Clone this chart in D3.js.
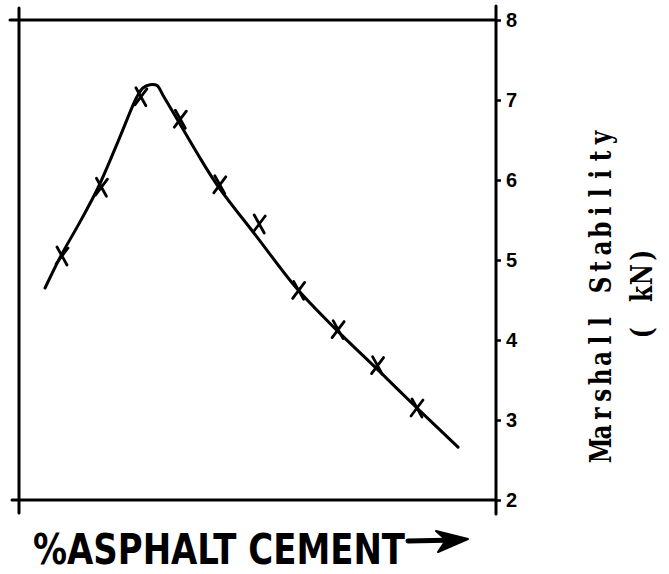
<!DOCTYPE html>
<html>
<head>
<meta charset="utf-8">
<script src="https://cdn.jsdelivr.net/npm/d3@7"></script>
<style>
  body { margin: 0; background: #fff; }
</style>
</head>
<body>
<div id="chart"></div>
<script>
// test number along the % asphalt axis (no values printed on that axis)
var SAMPLE_X = [0, 1, 2, 3, 4, 5, 6, 7, 8, 9];
var STABILITY = [5.05, 5.91, 7.04, 6.76, 5.94, 5.45, 4.62, 4.13, 3.68, 3.15];

// the hand drawn trend curve
var CURVE_X = [-0.43, -0.03, 0.46, 0.91, 1.42, 1.90, 2.05, 2.23, 2.41, 2.56, 2.92, 3.42, 3.93, 4.94, 5.96, 6.95, 7.94, 9.0, 10.04];
var CURVE_Y = [4.65, 5.05, 5.48, 5.90, 6.48, 7.04, 7.15, 7.19, 7.18, 7.06, 6.76, 6.34, 5.94, 5.29, 4.64, 4.13, 3.66, 3.15, 2.66];

var Y_TICKS = [2, 3, 4, 5, 6, 7, 8];
var Y_TITLE = 'Marshall Stability';
var Y_UNIT = '( kN)';
var X_TITLE = '%ASPHALT CEMENT';

var WIDTH = 669, HEIGHT = 574;

var svg = d3.select('#chart').append('svg')
    .attr('width', WIDTH)
    .attr('height', HEIGHT);

var x = d3.scaleLinear().domain([0, 9]).range([62, 417]);
var y = d3.scaleLinear().domain([2, 8]).range([500, 20]);

var frame = svg.append('g').attr('id', 'frame')
    .attr('stroke', '#000')
    .attr('stroke-width', 3)
    .attr('stroke-linecap', 'round');

// left border, top and bottom rules (ends run past the corners like the drawing)
var axisX = 496;
frame.append('line').attr('x1', 19).attr('x2', 19).attr('y1', 8).attr('y2', 513);
frame.append('line').attr('x1', 10).attr('x2', axisX).attr('y1', y(8)).attr('y2', y(8));
frame.append('line').attr('x1', 12).attr('x2', axisX).attr('y1', y(2)).attr('y2', y(2));

// right hand value axis
frame.append('line').attr('x1', axisX).attr('x2', axisX).attr('y1', 6).attr('y2', 514);

var yAxis = svg.append('g')
    .attr('transform', 'translate(' + axisX + ',0)')
    .attr('font-size', 20)
    .attr('font-family', '"Liberation Sans", Arial, sans-serif')
    .call(d3.axisRight(y).tickValues(Y_TICKS).tickSize(5).tickPadding(5).tickFormat(d3.format('d')));

yAxis.select('.domain').remove();
yAxis.selectAll('.tick line').attr('stroke', '#000').attr('stroke-width', 2.5);
yAxis.selectAll('.tick text')
    .attr('fill', '#000')
    .style('font-family', '"Liberation Sans", Arial, sans-serif')
    .style('font-weight', 'bold')
    .style('font-size', '20px');

// trend curve
var line = d3.line()
    .x(function(d) { return x(d[0]); })
    .y(function(d) { return y(d[1]); })
    .curve(d3.curveCatmullRom.alpha(0.5));

svg.append('path')
    .datum(d3.zip(CURVE_X, CURVE_Y))
    .attr('d', line)
    .attr('fill', 'none')
    .attr('stroke', '#000')
    .attr('stroke-width', 3)
    .attr('stroke-linecap', 'round');

// test results as crosses
svg.append('g').attr('id', 'points')
    .selectAll('path')
    .data(d3.zip(SAMPLE_X, STABILITY))
    .enter().append('path')
    .attr('transform', function(d) { return 'translate(' + x(d[0]) + ',' + y(d[1]) + ')'; })
    .attr('d', 'M-5,-9L5,9M6,-8L-6,8')
    .attr('fill', 'none')
    .attr('stroke', '#000')
    .attr('stroke-width', 2.8)
    .attr('stroke-linecap', 'round');

// value axis title, typewriter style: every letter on an even pitch,
// glyphs squeezed a little so wide ones (M, N) don't run together
function typed(str, cx, cy, pitch){
    var n = str.length;
    var g = svg.append('g')
        .attr('transform', 'translate(' + cx + ',' + cy + ')rotate(-90)')
        .style('font-family', '"DejaVu Serif", serif')
        .style('font-weight', 'bold')
        .style('font-size', '29px')
        .attr('fill', '#000');
    g.selectAll('text')
        .data(str.split(''))
        .enter().append('text')
        .attr('text-anchor', 'middle')
        .attr('transform', function(d, i) { return 'translate(' + ((i - (n - 1) / 2) * pitch) + ',0)scale(0.8,1)'; })
        .text(function(d) { return d; });
}

typed(Y_TITLE, 611, 294, 18.4);
typed(Y_UNIT, 652, 294, 19.4);

// hand lettered bottom title with arrow
svg.append('text')
    .attr('x', 33)
    .attr('y', 564)
    .attr('textLength', 372)
    .attr('lengthAdjust', 'spacingAndGlyphs')
    .style('font-family', '"DejaVu Sans", sans-serif')
    .style('font-weight', 'bold')
    .style('font-size', '43px')
    .attr('fill', '#000')
    .text(X_TITLE);

svg.append('line')
    .attr('x1', 408).attr('x2', 458)
    .attr('y1', 541).attr('y2', 540)
    .attr('stroke', '#000')
    .attr('stroke-width', 5)
    .attr('stroke-linecap', 'round');

svg.append('path')
    .attr('d', 'M436,531L468,539L438,552L446,540Z')
    .attr('fill', '#000')
    .attr('stroke', '#000')
    .attr('stroke-width', 2)
    .attr('stroke-linejoin', 'round');
</script>
</body>
</html>
